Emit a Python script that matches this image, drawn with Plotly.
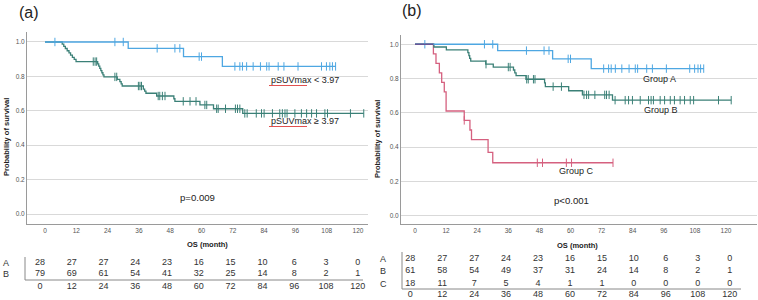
import plotly.graph_objects as go

W, H = 758, 300

# ---------------- data ----------------
tick_months = [0, 12, 24, 36, 48, 60, 72, 84, 96, 108, 120]
y_ticks = [0.0, 0.2, 0.4, 0.6, 0.8, 1.0]

# Group A (pSUVmax < 3.97) - same in both panels
A_time = [0, 31.9, 53.1, 68.0, 111.5]
A_surv = [1.0, 0.963, 0.915, 0.858, 0.858]
A_cens = [3.8, 26.8, 30.0, 43.0, 49.8, 51.7, 59.1, 60.0, 72.8, 74.7, 75.7, 77.3,
          79.8, 82.6, 85.0, 85.9, 89.4, 91.6, 97.0, 106.0, 107.9, 109.2, 110.2, 111.4]

# Panel (a) group B (pSUVmax >= 3.97)
aB_time = [0, 6.6, 7.2, 7.8, 8.5, 9.2, 9.8, 10.5, 11.2, 11.9,
           20.2, 20.6, 21.0, 21.4, 21.8, 22.2, 22.6,
           27.7, 28.7, 29.2, 29.6, 37.7, 38.2, 38.7, 42.8, 49.4, 49.8,
           59.4, 64.6, 75.8, 122.2]
aB_surv = [1.0, 0.987, 0.975, 0.962, 0.949, 0.937, 0.924, 0.911, 0.899, 0.886,
           0.873, 0.860, 0.847, 0.834, 0.821, 0.809, 0.797,
           0.783, 0.770, 0.757, 0.744, 0.726, 0.714, 0.702, 0.686, 0.670, 0.655,
           0.634, 0.612, 0.585, 0.585]
aB_cens = [18.5, 19.2, 19.8, 26.8, 27.5, 35.8, 36.4, 37.0, 43.4, 44.0, 45.0, 46.0,
           53.0, 55.6, 57.9, 61.3, 62.0, 65.8, 66.4, 69.2, 73.0, 73.8, 74.7, 76.6,
           77.5, 81.0, 83.0, 84.0, 87.2, 90.0, 91.0, 92.0, 92.8, 95.8, 98.3, 100.3,
           102.2, 104.1, 107.3, 108.3, 117.1, 122.2]

# Panel (b) group B
bB_time = [0, 7.3, 12.1, 20.4, 20.8, 21.1, 21.5, 27.3, 30.2, 38.0, 38.5, 39.0,
           42.8, 50.0, 50.3, 59.3, 64.6, 76.2, 122.0]
bB_surv = [1.0, 0.984, 0.967, 0.951, 0.934, 0.918, 0.902, 0.884, 0.867, 0.850,
           0.833, 0.817, 0.796, 0.775, 0.753, 0.729, 0.705, 0.674, 0.674]
bB_cens = [27.4, 36.0, 36.7, 43.1, 43.7, 45.7, 46.3, 53.3, 56.5, 65.2, 66.2, 67.0,
           69.4, 73.2, 73.9, 74.9, 77.2, 81.1, 82.4, 83.9, 86.9, 90.1, 91.1, 92.0,
           94.6, 96.3, 98.5, 100.1, 102.3, 104.0, 106.2, 107.5, 117.1, 122.0]

# Panel (b) group C
bC_time = [0, 7.1, 8.1, 9.4, 10.3, 11.3, 12.0, 19.0, 21.2, 21.8, 28.2, 30.0, 76.4]
bC_surv = [1.0, 0.944, 0.889, 0.833, 0.778, 0.722, 0.611, 0.556, 0.500, 0.444,
           0.370, 0.309, 0.309]
bC_cens = [19.0, 47.2, 49.2, 58.4, 60.4, 76.4]

# Numbers at risk
a_risk_A = [28, 27, 27, 24, 23, 16, 15, 10, 6, 3, 0]
a_risk_B = [79, 69, 61, 54, 41, 32, 25, 14, 8, 2, 1]
b_risk_A = [28, 27, 27, 24, 23, 16, 15, 10, 6, 3, 0]
b_risk_B = [61, 58, 54, 49, 37, 31, 24, 14, 8, 2, 1]
b_risk_C = [18, 11, 7, 5, 4, 1, 1, 0, 0, 0, 0]

# ---------------- style ----------------
COL_A = "#4ea7e2"
COL_B = "#3b8077"
COL_C = "#d5607f"
COL_START = "#6a4f8f"  # overlapping start segment in panel (b)
FONT = "Arial, Liberation Sans, sans-serif"
TABLE_TOP = 248  # pixel row where the table sub-area begins


def px_x(p):
    return p / W


def px_y(p):
    return 1 - p / H


def surv_at(times, surv, t):
    s = surv[0]
    for tt, ss in zip(times, surv):
        if tt <= t:
            s = ss
    return s


fig = go.Figure()


def add_group(times, surv, cens, color, xa, ya):
    fig.add_trace(go.Scatter(x=times, y=surv, mode="lines", line=dict(color=color, width=1.3, shape="hv"),
                             xaxis=xa, yaxis=ya, showlegend=False, hoverinfo="skip"))
    fig.add_trace(go.Scatter(x=cens, y=[surv_at(times, surv, c) for c in cens], mode="markers",
                             marker=dict(symbol="line-ns", size=6, line=dict(color=color, width=1)),
                             xaxis=xa, yaxis=ya, showlegend=False, hoverinfo="skip"))


# panel (a)
add_group(aB_time, aB_surv, aB_cens, COL_B, "x", "y")
add_group(A_time, A_surv, A_cens, COL_A, "x", "y")
# panel (b)
add_group(bC_time, bC_surv, bC_cens, COL_C, "x2", "y2")
add_group(bB_time, bB_surv, bB_cens, COL_B, "x2", "y2")
add_group(A_time, A_surv, A_cens, COL_A, "x2", "y2")
# common starting segment where all three curves overlap (drawn purple-ish)
start_end = min(bC_time[1], bB_time[1])
fig.add_trace(go.Scatter(x=[bC_time[0], start_end], y=[bC_surv[0], bC_surv[0]], mode="lines",
                         line=dict(color=COL_START, width=1.3), xaxis="x2", yaxis="y2",
                         showlegend=False, hoverinfo="skip"))

# at-risk tables as text traces
table_font = dict(family=FONT, size=9, color="#333333")


def table_row(vals, yy, xa, ya):
    fig.add_trace(go.Scatter(x=tick_months, y=[yy] * len(vals), text=[str(v) for v in vals], mode="text",
                             textfont=table_font, cliponaxis=False, xaxis=xa, yaxis=ya,
                             showlegend=False, hoverinfo="skip"))


a_rows_y = [263, 274]
for vals, yy in zip([a_risk_A, a_risk_B], a_rows_y):
    table_row(vals, yy, "x3", "y3")
table_row(tick_months, 287, "x3", "y3")
b_rows_y = [258.5, 271, 283.5]
for vals, yy in zip([b_risk_A, b_risk_B, b_risk_C], b_rows_y):
    table_row(vals, yy, "x4", "y4")
table_row(tick_months, 294.5, "x4", "y4")

axis_common = dict(showgrid=False, zeroline=False, ticks="", showline=True, linecolor="#9a9a9a",
                   linewidth=1, tickfont=dict(family=FONT, size=6.5, color="#555555"), fixedrange=True)
yaxis_common = dict(showgrid=True, gridcolor="#d9d9d9", gridwidth=1, zeroline=False, ticks="",
                    showline=True, linecolor="#9a9a9a", linewidth=1, tickvals=y_ticks,
                    ticktext=[f"{v:.1f}" for v in y_ticks],
                    tickfont=dict(family=FONT, size=6.5, color="#555555"), fixedrange=True)

fig.update_layout(
    width=W, height=H, margin=dict(l=0, r=0, t=0, b=0),
    paper_bgcolor="white", plot_bgcolor="rgba(0,0,0,0)",
    xaxis=dict(domain=[px_x(27), px_x(368)], range=[-6.90, 123.83], tickvals=tick_months, anchor="y",
               **axis_common),
    yaxis=dict(domain=[px_y(224), px_y(32)], range=[-0.058, 1.058], anchor="x", **yaxis_common),
    xaxis2=dict(domain=[px_x(401), px_x(757)], range=[-5.40, 131.96], tickvals=tick_months, anchor="y2",
                **axis_common),
    yaxis2=dict(domain=[px_y(224), px_y(35)], range=[-0.048, 1.054], anchor="x2", **yaxis_common),
    xaxis3=dict(domain=[px_x(40), px_x(357.7)], range=[0, 120], visible=False, anchor="y3", fixedrange=True),
    yaxis3=dict(domain=[0, px_y(TABLE_TOP)], range=[H, TABLE_TOP], visible=False, anchor="x3",
                fixedrange=True),
    xaxis4=dict(domain=[px_x(410.3), px_x(729.7)], range=[0, 120], visible=False, anchor="y4",
                fixedrange=True),
    yaxis4=dict(domain=[0, px_y(TABLE_TOP)], range=[H, TABLE_TOP], visible=False, anchor="x4",
                fixedrange=True),
)

ann = []


def text(x, y, s, size, bold=False, color="#222222", xanchor="center", textangle=0):
    ann.append(dict(x=px_x(x), y=px_y(y), xref="paper", yref="paper", text=f"<b>{s}</b>" if bold else s,
                    showarrow=False, xanchor=xanchor, yanchor="middle", textangle=textangle,
                    font=dict(family=FONT, size=size, color=color)))


text(29, 12, "(a)", 16)
text(412, 11, "(b)", 16)
text(6, 137, "Probability of survival", 7.5, bold=True, textangle=-90)
text(377, 139, "Probability of survival", 7.5, bold=True, textangle=-90)
text(207, 244, "OS (month)", 7.5, bold=True)
text(577, 245, "OS (month)", 7.5, bold=True)
text(269, 80, "pSUVmax &lt; 3.97", 9, xanchor="left")
text(269, 121, "pSUVmax ≥ 3.97", 9, xanchor="left")
text(197, 197, "p=0.009", 9.6)
text(571, 200, "p&lt;0.001", 9.6)
text(659, 79, "Group A", 9)
text(661, 110, "Group B", 9)
text(576, 171, "Group C", 9)
# table row letters
for lab, yy in zip(["A", "B"], a_rows_y):
    text(6, yy, lab, 9, color="#333333")
for lab, yy in zip(["A", "B", "C"], b_rows_y):
    text(383, yy, lab, 9, color="#333333")
fig.update_layout(annotations=ann)

shapes = []


def pline(x0, y0, x1, y1, color="#888888", width=1):
    shapes.append(dict(type="line", xref="paper", yref="paper", x0=px_x(x0), y0=px_y(y0), x1=px_x(x1),
                       y1=px_y(y1), line=dict(color=color, width=width)))


# table frames
pline(25, 257, 25, 280)
pline(25, 280, 363, 280)
pline(402, 252, 402, 289)
pline(402, 289, 741, 289)
# red spell-check underlines
pline(269, 85.5, 307, 85.5, color="#e05050", width=1)
pline(269, 126.5, 307, 126.5, color="#e05050", width=1)
fig.update_layout(shapes=shapes)

# remove the browser's default body margin so the 758x300 figure fills the window exactly
fig.write_html("out.html", config={"displayModeBar": False},
               post_script="document.body.style.margin='0';document.body.style.overflow='hidden';")
